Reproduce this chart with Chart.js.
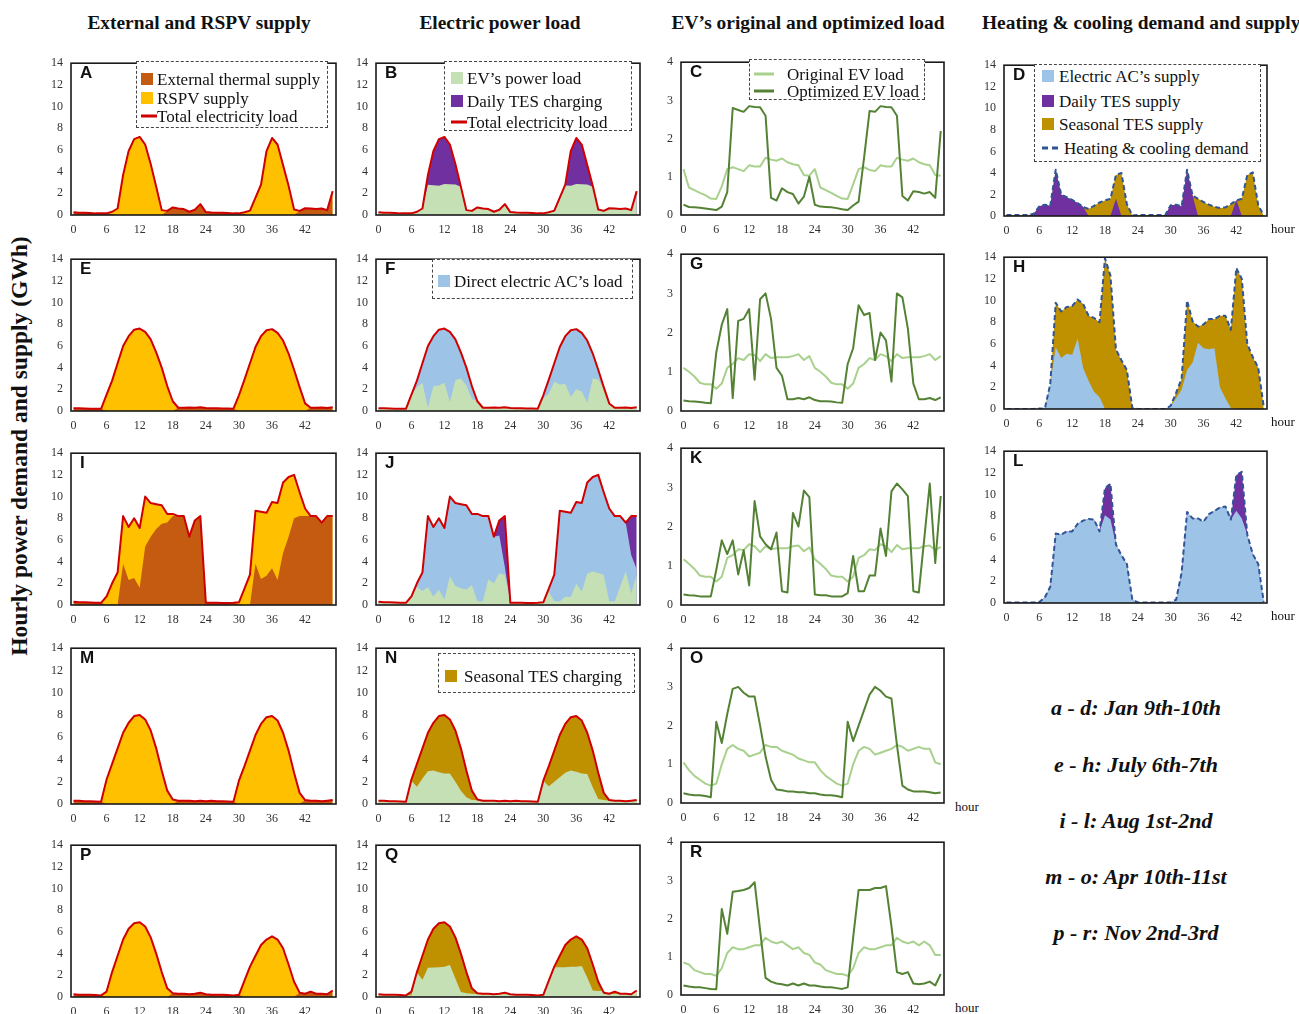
<!DOCTYPE html>
<html>
<head>
<meta charset="utf-8">
<title>Hourly power demand and supply</title>
<script src="https://cdn.jsdelivr.net/npm/chart.js@4.4.1/dist/chart.umd.min.js"></script>
<style>
  html, body { margin: 0; padding: 0; background: #fff; }
  body { position: relative; width: 1299px; height: 1014px; overflow: hidden; font-family: 'Liberation Serif', 'Times New Roman', serif; color: #111; }
  .abs { position: absolute; white-space: nowrap; line-height: 1; }
  .coltitle { font-weight: bold; font-size: 19.4px; }
  .ytitle { font-weight: bold; font-size: 23.5px; transform: translate(-50%, -50%) rotate(-90deg); }
  .letter { font-family: 'Liberation Sans', Arial, sans-serif; font-weight: bold; font-size: 17px; }
  .legend { position: absolute; border: 1px dashed #444; box-sizing: border-box; background: #fff; }
  .lrow { position: absolute; left: 0; right: 0; height: 18px; }
  .sw, .ltext { position: absolute; top: 50%; transform: translateY(-50%); white-space: nowrap; line-height: 1; }
  .hour { font-size: 13px; }
  .period { font-weight: bold; font-style: italic; font-size: 22px; transform: translateX(-50%); }
</style>
</head>
<body>
<script>
// hours on the x axis, and the tick labels
const hours = [0,1,2,3,4,5,6,7,8,9,10,11,12,13,14,15,16,17,18,19,20,21,22,23,24,25,26,27,28,29,30,31,32,33,34,35,36,37,38,39,40,41,42,43,44,45,46,47];
const xTicks = [0, 6, 12, 18, 24, 30, 36, 42];
const yTicksPower = [0, 2, 4, 6, 8, 10, 12, 14];
const yTicksEV = [0, 1, 2, 3, 4];

// --- Jan 9th-10th (A - D) ---
const totalJan = [0.25,0.2,0.2,0.18,0.15,0.15,0.15,0.3,0.6,3.7,5.9,7.0,7.2,6.5,4.7,2.6,0.45,0.38,0.7,0.6,0.55,0.3,0.48,1.0,0.27,0.22,0.21,0.2,0.18,0.15,0.15,0.25,0.4,1.6,2.8,5.9,7.1,6.5,4.6,2.7,0.5,0.38,0.62,0.6,0.56,0.6,0.45,2.2];
const extJan = [0.25,0.2,0.2,0.18,0.15,0.15,0.15,0.1,0,0,0,0,0,0,0,0,0,0.38,0.7,0.6,0.55,0.3,0.48,1.0,0.27,0.22,0.21,0.2,0.18,0.15,0.15,0.1,0,0,0,0,0,0,0,0,0,0.38,0.62,0.6,0.56,0.6,0.45,2.2];
const evOptJan = [0.27,0.21,0.2,0.19,0.17,0.15,0.13,0.22,0.6,2.8,2.75,2.7,2.85,2.83,2.82,2.6,0.45,0.38,0.7,0.6,0.55,0.3,0.48,1.0,0.27,0.22,0.21,0.2,0.18,0.15,0.13,0.25,0.35,1.5,2.72,2.7,2.85,2.83,2.82,2.6,0.5,0.38,0.62,0.6,0.56,0.6,0.45,2.2];
const evOrigJan = [1.2,0.72,0.65,0.58,0.52,0.43,0.42,0.75,1.2,1.25,1.2,1.15,1.3,1.27,1.27,1.5,1.45,1.42,1.48,1.38,1.33,1.3,1.05,1.03,1.2,0.72,0.65,0.58,0.5,0.43,0.42,0.8,1.2,1.25,1.18,1.15,1.3,1.27,1.27,1.5,1.45,1.42,1.48,1.38,1.33,1.3,1.05,1.03];
const demandJan = [0.1,0.1,0.1,0.1,0.1,0.2,0.9,1.05,0.95,4.3,2.0,1.75,1.5,1.2,0.85,0.65,0.95,1.25,1.45,1.6,3.8,4.0,1.1,0.05,0.1,0.1,0.1,0.1,0.1,0.1,1.0,1.05,0.9,4.3,1.9,1.6,1.3,1.05,0.85,0.75,0.8,1.1,1.45,1.6,3.8,4.05,1.0,0.05];
const dailyJan = [0,0,0,0,0,0.2,0.9,1.05,0.95,4.3,2.0,1.75,1.5,1.2,0.85,0,0,0,0,0,1.6,0,0,0,0,0,0,0,0,0.1,1.0,1.05,0.9,4.3,1.9,0,0,0,0,0,0,0,1.5,0,0,0,0,0];

// --- July 6th-7th (E - H) ---
const totalJul = [0.25,0.25,0.22,0.2,0.2,0.2,1.5,2.8,4.4,6.0,6.9,7.5,7.6,7.3,6.6,5.4,4.0,2.3,0.9,0.3,0.3,0.32,0.3,0.35,0.28,0.25,0.25,0.24,0.22,0.21,1.45,2.9,4.4,5.9,6.9,7.45,7.55,7.2,6.5,5.3,3.8,2.2,0.7,0.3,0.3,0.33,0.28,0.35];
const extJul = [0.25,0.25,0.22,0.2,0.2,0.2,0,0,0,0,0,0,0,0,0,0,0,0,0,0.3,0.3,0.32,0.3,0.35,0.28,0.25,0.25,0.24,0.22,0.21,0,0,0,0,0,0,0,0,0,0,0,0,0,0.3,0.3,0.33,0.28,0.35];
const evOptJul = [0.27,0.25,0.24,0.23,0.21,0.2,1.5,2.2,2.6,0.33,2.3,2.35,2.6,0.8,2.85,3.0,2.35,1.1,0.9,0.3,0.3,0.33,0.3,0.35,0.28,0.25,0.25,0.24,0.22,0.21,1.2,1.6,2.7,2.45,2.5,1.3,2.0,1.8,0.75,3.0,2.9,2.1,0.7,0.3,0.3,0.33,0.28,0.35];
const evOrigJul = [1.1,1.0,0.88,0.72,0.68,0.68,0.57,0.7,1.1,1.2,1.35,1.3,1.45,1.43,1.27,1.45,1.35,1.37,1.37,1.37,1.4,1.45,1.3,1.4,1.1,1.0,0.88,0.72,0.68,0.68,0.57,0.7,1.1,1.2,1.35,1.3,1.45,1.4,1.27,1.45,1.35,1.37,1.37,1.37,1.4,1.45,1.3,1.4];
const demandJul = [0,0,0,0,0,0,0.05,0,2.3,9.8,9.0,9.4,9.5,10.1,9.7,8.6,8.4,8.0,13.9,12.3,5.5,4.5,3.6,0.1,0,0,0,0,0,0,0.3,1.5,2.8,10.0,8.1,7.6,7.8,8.3,8.3,8.6,8.6,7.3,13.0,12.0,6.0,4.8,3.8,0.2];
const acJul = [0,0,0,0,0,0,0,0,2.3,5.7,4.7,5.1,5.0,6.5,3.8,2.6,1.6,1.1,0,0,0,0,0,0,0,0,0,0,0,0,0.3,1.0,1.8,3.6,4.3,6.1,5.6,5.5,5.6,2.0,1.0,0.1,0,0,0,0,0,0];

// --- Aug 1st-2nd (I - L) ---
const totalAug = [0.3,0.25,0.25,0.22,0.2,0.2,0.8,2.0,3.0,8.2,7.2,8.0,7.1,10.0,9.4,9.3,9.2,8.4,8.4,8.2,8.2,6.3,7.8,8.2,0.2,0.2,0.2,0.18,0.18,0.2,0.25,1.5,2.8,8.7,8.6,8.5,9.5,9.4,11.3,11.8,12.0,10.4,8.9,8.2,8.2,7.6,8.2,8.2];
const extAug = [0.3,0.25,0.25,0.22,0.2,0.2,0,0.1,0,3.8,2.3,2.5,1.6,5.4,6.3,7.0,7.5,7.6,8.2,8.2,8.2,6.3,7.8,8.2,0.2,0.2,0.2,0.18,0.18,0.2,0.1,0,0,3.8,2.4,2.7,3.4,2.3,4.8,6.3,8.0,8.2,8.2,8.2,8.2,7.6,8.2,8.2];
const acLoadAug = [0.3,0.25,0.25,0.22,0.2,0.2,0.8,2.0,3.0,8.2,7.2,8.0,7.1,10.0,9.4,9.3,9.2,8.4,8.4,8.2,8.2,6.3,6.4,3.5,0.2,0.2,0.2,0.18,0.18,0.2,0.25,1.5,2.8,8.7,8.6,8.5,9.5,9.4,11.3,11.8,12.0,10.4,8.9,8.2,8.2,7.6,4.6,3.3];
const evOptAug = [0.27,0.25,0.24,0.22,0.22,0.22,0.9,1.65,1.3,1.65,0.78,1.4,0.5,2.65,1.75,1.55,1.42,1.85,0.35,0.32,2.35,2.0,2.92,2.75,0.27,0.25,0.25,0.22,0.22,0.22,0.3,1.25,0.35,0.35,0.75,0.75,1.95,1.25,2.9,3.1,2.95,2.78,0.35,0.32,1.7,3.1,1.07,2.78];
const evOrigAug = [1.17,1.05,0.92,0.75,0.72,0.72,0.6,0.72,1.2,1.27,1.42,1.4,1.55,1.5,1.35,1.5,1.42,1.45,1.45,1.45,1.5,1.52,1.37,1.47,1.17,1.05,0.92,0.75,0.72,0.72,0.6,0.72,1.2,1.27,1.42,1.4,1.55,1.5,1.35,1.53,1.42,1.45,1.45,1.45,1.5,1.52,1.4,1.48];
const demandAug = [0.05,0.05,0.05,0.05,0.05,0.05,0.1,0.5,1.5,6.4,6.3,6.6,6.6,7.3,7.6,7.75,7.7,6.6,10.6,11.0,5.4,4.4,3.6,0.3,0.05,0.05,0.05,0.05,0.05,0.05,0.05,0.3,2.8,8.4,7.8,7.8,7.5,8.2,8.5,8.8,8.9,7.7,11.8,12.1,6.3,4.5,3.6,0.1];
const acAug = [0.05,0.05,0.05,0.05,0.05,0.05,0.1,0.5,1.5,6.4,6.3,6.6,6.6,7.3,7.6,7.75,7.7,6.6,8.1,7.7,5.4,4.4,3.6,0.3,0.05,0.05,0.05,0.05,0.05,0.05,0.05,0.3,2.8,8.4,7.8,7.8,7.5,8.2,8.5,8.8,8.9,7.7,8.5,7.8,6.3,4.5,3.6,0.1];

// --- Apr 10th-11st (M - O) ---
const totalApr = [0.3,0.3,0.25,0.25,0.22,0.2,2.2,3.6,5.0,6.4,7.3,7.9,8.0,7.6,6.6,5.0,3.0,1.2,0.4,0.3,0.3,0.3,0.25,0.3,0.25,0.3,0.25,0.25,0.22,0.2,2.1,3.4,4.8,6.2,7.2,7.8,7.9,7.5,6.4,4.8,2.8,1.0,0.35,0.3,0.3,0.25,0.3,0.35];
const extApr = [0.3,0.3,0.25,0.25,0.22,0.2,0,0,0,0,0,0,0,0,0,0,0,0,0,0.3,0.3,0.3,0.25,0.3,0.25,0.3,0.25,0.25,0.22,0.2,0,0,0,0,0,0,0,0,0,0,0,0,0.35,0.3,0.3,0.25,0.3,0.35];
const evOptApr = [0.25,0.22,0.2,0.2,0.18,0.15,2.1,1.55,2.3,2.95,3.0,2.85,2.75,2.75,2.0,1.2,0.6,0.35,0.33,0.3,0.3,0.28,0.28,0.25,0.25,0.22,0.2,0.2,0.18,0.15,2.1,1.6,2.0,2.4,2.8,3.0,2.9,2.75,2.7,1.5,0.45,0.35,0.3,0.3,0.3,0.28,0.25,0.27];
const evOrigApr = [1.05,0.85,0.7,0.6,0.5,0.45,0.5,1.0,1.4,1.5,1.4,1.35,1.2,1.25,1.3,1.5,1.45,1.45,1.35,1.3,1.25,1.15,1.1,1.05,1.05,0.85,0.7,0.6,0.5,0.45,0.5,1.0,1.35,1.45,1.4,1.25,1.3,1.35,1.4,1.5,1.45,1.35,1.4,1.45,1.4,1.4,1.05,1.0];

// --- Nov 2nd-3rd (P - R) ---
const totalNov = [0.25,0.2,0.2,0.2,0.18,0.15,0.5,2.3,3.8,5.3,6.3,6.8,6.9,6.5,5.5,4.0,2.3,0.8,0.35,0.3,0.3,0.25,0.3,0.4,0.25,0.2,0.2,0.2,0.18,0.15,0.2,1.5,2.8,3.8,4.8,5.3,5.6,5.3,4.5,3.0,1.4,0.4,0.3,0.5,0.3,0.3,0.25,0.6];
const extNov = [0.25,0.2,0.2,0.2,0.18,0.15,0,0,0,0,0,0,0,0,0,0,0,0,0.35,0.3,0.3,0.25,0.3,0.4,0.25,0.2,0.2,0.2,0.18,0.15,0.2,0,0,0,0,0,0,0,0,0,0,0.4,0.3,0.5,0.3,0.3,0.25,0.6];
const evOptNov = [0.25,0.22,0.2,0.2,0.18,0.16,0.15,2.25,1.6,2.7,2.72,2.75,2.8,2.95,1.7,0.45,0.35,0.3,0.28,0.25,0.3,0.25,0.3,0.25,0.25,0.22,0.2,0.2,0.18,0.16,0.2,1.5,2.75,2.75,2.75,2.8,2.8,2.85,1.8,0.6,0.55,0.6,0.3,0.28,0.3,0.35,0.25,0.55];
const evOrigNov = [0.85,0.8,0.65,0.6,0.55,0.55,0.5,0.7,1.1,1.25,1.2,1.2,1.25,1.3,1.3,1.5,1.4,1.35,1.4,1.3,1.2,1.25,1.1,1.05,0.85,0.8,0.65,0.6,0.55,0.55,0.5,0.7,1.1,1.25,1.2,1.2,1.25,1.3,1.3,1.5,1.4,1.35,1.4,1.3,1.4,1.3,1.05,1.05];

// colours
const BROWN = '#C55A11', YELLOW = '#FFC000', RED = '#D00000';
const EVGREEN = '#C5E0B4', PURPLE = '#7030A0', ACBLUE = '#9DC3E6', GOLD = '#BF9000';
const LIGHTGREEN = '#A9D18E', DARKGREEN = '#548235', DEMANDBLUE = '#2F5597';

const tickFont = { family: "'Liberation Serif', serif", size: 12 };

function el(tag, cls, text) {
    const e = document.createElement(tag);
    if (cls) e.className = cls;
    if (text) e.textContent = text;
    return e;
}

function put(e, x, y) {
    e.style.left = x + 'px';
    e.style.top = y + 'px';
    document.body.append(e);
    return e;
}

// black frame round each plot area
const framePlugin = {
    id: 'frame',
    afterDraw(chart) {
        const { ctx, chartArea: a } = chart;
        ctx.save();
        ctx.strokeStyle = '#1a1a1a';
        ctx.lineWidth = 1.6;
        ctx.strokeRect(a.left, a.top, a.right - a.left, a.bottom - a.top);
        ctx.restore();
    }
};

function addPanel(p) {
    const padTop = 8, padRight = 6, yw = 34, xh = 22;
    const w = p.r - p.l + yw + padRight;
    const h = p.b - p.t + padTop + xh;
    const cv = el('canvas');
    cv.width = w; cv.height = h;
    cv.style.position = 'absolute';
    cv.style.width = w + 'px'; cv.style.height = h + 'px';
    put(cv, p.l - yw, p.t - padTop);

    // lines first (index 0 is drawn on top), then fills bottom-to-top
    const datasets = [];
    (p.lines || []).forEach(s => datasets.push({
        data: s.data, borderColor: s.color, borderWidth: s.width || 2,
        borderDash: s.dash || [], fill: false, pointRadius: 0
    }));
    (p.fills || []).forEach(s => datasets.push({
        data: s.data, backgroundColor: s.color, borderWidth: 0,
        fill: 'origin', pointRadius: 0
    }));

    const yTicks = p.ev ? yTicksEV : yTicksPower;
    new Chart(cv, {
        type: 'line',
        data: { labels: hours, datasets },
        options: {
            responsive: false,
            animation: false,
            layout: { padding: { top: padTop, right: padRight, left: 0, bottom: 0 } },
            elements: { line: { tension: 0, borderJoinStyle: 'round' } },
            plugins: {
                legend: { display: false },
                tooltip: { enabled: false },
                filler: { drawTime: 'beforeDatasetsDraw' }
            },
            scales: {
                x: {
                    type: 'linear', min: -0.45, max: 47.6,
                    grid: { display: false, drawTicks: false },
                    border: { display: false },
                    afterBuildTicks: s => { s.ticks = xTicks.map(v => ({ value: v })); },
                    afterFit: s => { s.height = xh; },
                    ticks: { font: tickFont, color: '#333', padding: 8, maxRotation: 0, autoSkip: false }
                },
                y: {
                    min: 0, max: yTicks[yTicks.length - 1],
                    grid: { display: false, drawTicks: false },
                    border: { display: false },
                    afterBuildTicks: s => { s.ticks = yTicks.map(v => ({ value: v })); },
                    afterFit: s => { s.width = yw; },
                    ticks: { font: tickFont, color: '#333', padding: 8 }
                }
            }
        },
        plugins: [framePlugin]
    });

    put(el('div', 'abs letter', p.id), p.l + 9, p.t + 8);
}

function addLegend(L) {
    const box = el('div', 'legend');
    box.style.width = L.w + 'px';
    box.style.height = L.h + 'px';
    L.items.forEach((it, i) => {
        const row = el('div', 'lrow');
        row.style.top = (L.rows[i] - 9) + 'px';
        row.style.fontSize = L.fs + 'px';
        const sw = el('span', 'sw');
        sw.style.left = L.sx + 'px';
        if (it.kind === 'box') {
            sw.style.width = L.sq + 'px';
            sw.style.height = L.sq + 'px';
            sw.style.background = it.color;
        } else {
            sw.style.width = it.len + 'px';
            sw.style.height = '0';
            sw.style.borderTop = '3px ' + (it.kind === 'dash' ? 'dashed ' : 'solid ') + it.color;
        }
        const tx = el('span', 'ltext', it.text);
        tx.style.left = (it.tx || L.tx) + 'px';
        row.append(sw, tx);
        box.append(row);
    });
    put(box, L.x, L.y);
}

// plot areas (pixel edges)
const C1 = [71, 336], C2 = [376, 640], C3 = [681, 944], C4 = [1004, 1267];
const redLine = d => ({ data: d, color: RED, width: 2 });
const demandLine = d => ({ data: d, color: DEMANDBLUE, width: 2, dash: [5, 3] });
const evLines = (opt, orig) => [{ data: opt, color: DARKGREEN, width: 2 }, { data: orig, color: LIGHTGREEN, width: 2 }];

const panels = [
    { id: 'A', l: C1[0], r: C1[1], t: 56, b: 215, fills: [{ data: extJan, color: BROWN }, { data: totalJan, color: YELLOW }], lines: [redLine(totalJan)] },
    { id: 'B', l: C2[0], r: C2[1], t: 56, b: 215, fills: [{ data: evOptJan, color: EVGREEN }, { data: totalJan, color: PURPLE }], lines: [redLine(totalJan)] },
    { id: 'C', l: C3[0], r: C3[1], t: 55, b: 215, ev: true, lines: evLines(evOptJan, evOrigJan) },
    { id: 'D', l: C4[0], r: C4[1], t: 58, b: 216, fills: [{ data: dailyJan, color: PURPLE }, { data: demandJan, color: GOLD }], lines: [demandLine(demandJan)] },

    { id: 'E', l: C1[0], r: C1[1], t: 252, b: 411, fills: [{ data: extJul, color: BROWN }, { data: totalJul, color: YELLOW }], lines: [redLine(totalJul)] },
    { id: 'F', l: C2[0], r: C2[1], t: 252, b: 411, fills: [{ data: evOptJul, color: EVGREEN }, { data: totalJul, color: ACBLUE }], lines: [redLine(totalJul)] },
    { id: 'G', l: C3[0], r: C3[1], t: 247, b: 411, ev: true, lines: evLines(evOptJul, evOrigJul) },
    { id: 'H', l: C4[0], r: C4[1], t: 250, b: 409, fills: [{ data: acJul, color: ACBLUE }, { data: demandJul, color: GOLD }], lines: [demandLine(demandJul)] },

    { id: 'I', l: C1[0], r: C1[1], t: 446, b: 605, fills: [{ data: extAug, color: BROWN }, { data: totalAug, color: YELLOW }], lines: [redLine(totalAug)] },
    { id: 'J', l: C2[0], r: C2[1], t: 446, b: 605, fills: [{ data: evOptAug, color: EVGREEN }, { data: acLoadAug, color: ACBLUE }, { data: totalAug, color: PURPLE }], lines: [redLine(totalAug)] },
    { id: 'K', l: C3[0], r: C3[1], t: 441, b: 605, ev: true, lines: evLines(evOptAug, evOrigAug) },
    { id: 'L', l: C4[0], r: C4[1], t: 444, b: 603, fills: [{ data: acAug, color: ACBLUE }, { data: demandAug, color: PURPLE }], lines: [demandLine(demandAug)] },

    { id: 'M', l: C1[0], r: C1[1], t: 641, b: 804, fills: [{ data: extApr, color: BROWN }, { data: totalApr, color: YELLOW }], lines: [redLine(totalApr)] },
    { id: 'N', l: C2[0], r: C2[1], t: 641, b: 804, fills: [{ data: evOptApr, color: EVGREEN }, { data: totalApr, color: GOLD }], lines: [redLine(totalApr)] },
    { id: 'O', l: C3[0], r: C3[1], t: 641, b: 803, ev: true, lines: evLines(evOptApr, evOrigApr) },

    { id: 'P', l: C1[0], r: C1[1], t: 838, b: 997, fills: [{ data: extNov, color: BROWN }, { data: totalNov, color: YELLOW }], lines: [redLine(totalNov)] },
    { id: 'Q', l: C2[0], r: C2[1], t: 838, b: 997, fills: [{ data: evOptNov, color: EVGREEN }, { data: totalNov, color: GOLD }], lines: [redLine(totalNov)] },
    { id: 'R', l: C3[0], r: C3[1], t: 835, b: 995, ev: true, lines: evLines(evOptNov, evOrigNov) }
];
panels.forEach(addPanel);

// legends
addLegend({ x: 136, y: 61, w: 192, h: 67, fs: 17, sx: 4, sq: 12, tx: 20, rows: [17, 36, 54], items: [
    { kind: 'box', color: BROWN, text: 'External thermal supply' },
    { kind: 'box', color: YELLOW, text: 'RSPV supply' },
    { kind: 'line', color: RED, len: 16, text: 'Total electricity load' }
] });
addLegend({ x: 444, y: 61, w: 188, h: 70, fs: 17, sx: 6, sq: 12, tx: 22, rows: [16, 39, 60], items: [
    { kind: 'box', color: EVGREEN, text: 'EV’s power load' },
    { kind: 'box', color: PURPLE, text: 'Daily TES charging' },
    { kind: 'line', color: RED, len: 16, text: 'Total electricity load' }
] });
addLegend({ x: 749, y: 59, w: 176, h: 41, fs: 17, sx: 4, sq: 12, tx: 37, rows: [14, 31], items: [
    { kind: 'line', color: LIGHTGREEN, len: 20, text: 'Original EV load' },
    { kind: 'line', color: DARKGREEN, len: 20, text: 'Optimized EV load' }
] });
addLegend({ x: 1034, y: 64, w: 227, h: 98, fs: 17, sx: 7, sq: 12, tx: 24, rows: [11, 36, 59, 83], items: [
    { kind: 'box', color: ACBLUE, text: 'Electric AC’s supply' },
    { kind: 'box', color: PURPLE, text: 'Daily TES supply' },
    { kind: 'box', color: GOLD, text: 'Seasonal TES supply' },
    { kind: 'dash', color: DEMANDBLUE, len: 16, tx: 29, text: 'Heating & cooling demand' }
] });
addLegend({ x: 432, y: 259, w: 201, h: 40, fs: 17, sx: 5, sq: 12, tx: 21, rows: [21], items: [
    { kind: 'box', color: ACBLUE, text: 'Direct electric AC’s load' }
] });
addLegend({ x: 438, y: 653, w: 197, h: 40, fs: 17, sx: 6, sq: 12, tx: 25, rows: [22], items: [
    { kind: 'box', color: GOLD, text: 'Seasonal TES charging' }
] });

// column titles and axis title
const t1 = put(el('div', 'abs coltitle', 'External and RSPV supply'), 199, 13); t1.style.transform = 'translateX(-50%)';
const t2 = put(el('div', 'abs coltitle', 'Electric power load'), 500, 13); t2.style.transform = 'translateX(-50%)';
const t3 = put(el('div', 'abs coltitle', 'EV’s original and optimized load'), 808, 13); t3.style.transform = 'translateX(-50%)';
put(el('div', 'abs coltitle', 'Heating & cooling demand and supply'), 982, 13);
put(el('div', 'abs ytitle', 'Hourly power demand and supply (GWh)'), 20, 446);

// "hour" unit labels
[[1271, 222], [1271, 415], [1271, 609], [955, 800], [955, 1001]].forEach(([x, y]) => put(el('div', 'abs hour', 'hour'), x, y));

// date ranges
const periods = ['a - d: Jan 9th-10th', 'e - h: July 6th-7th', 'i - l: Aug 1st-2nd', 'm - o: Apr 10th-11st', 'p - r: Nov 2nd-3rd'];
const periodY = [697, 754, 810, 866, 922];
periods.forEach((txt, i) => put(el('div', 'abs period', txt), 1136, periodY[i]));
</script>
</body>
</html>
